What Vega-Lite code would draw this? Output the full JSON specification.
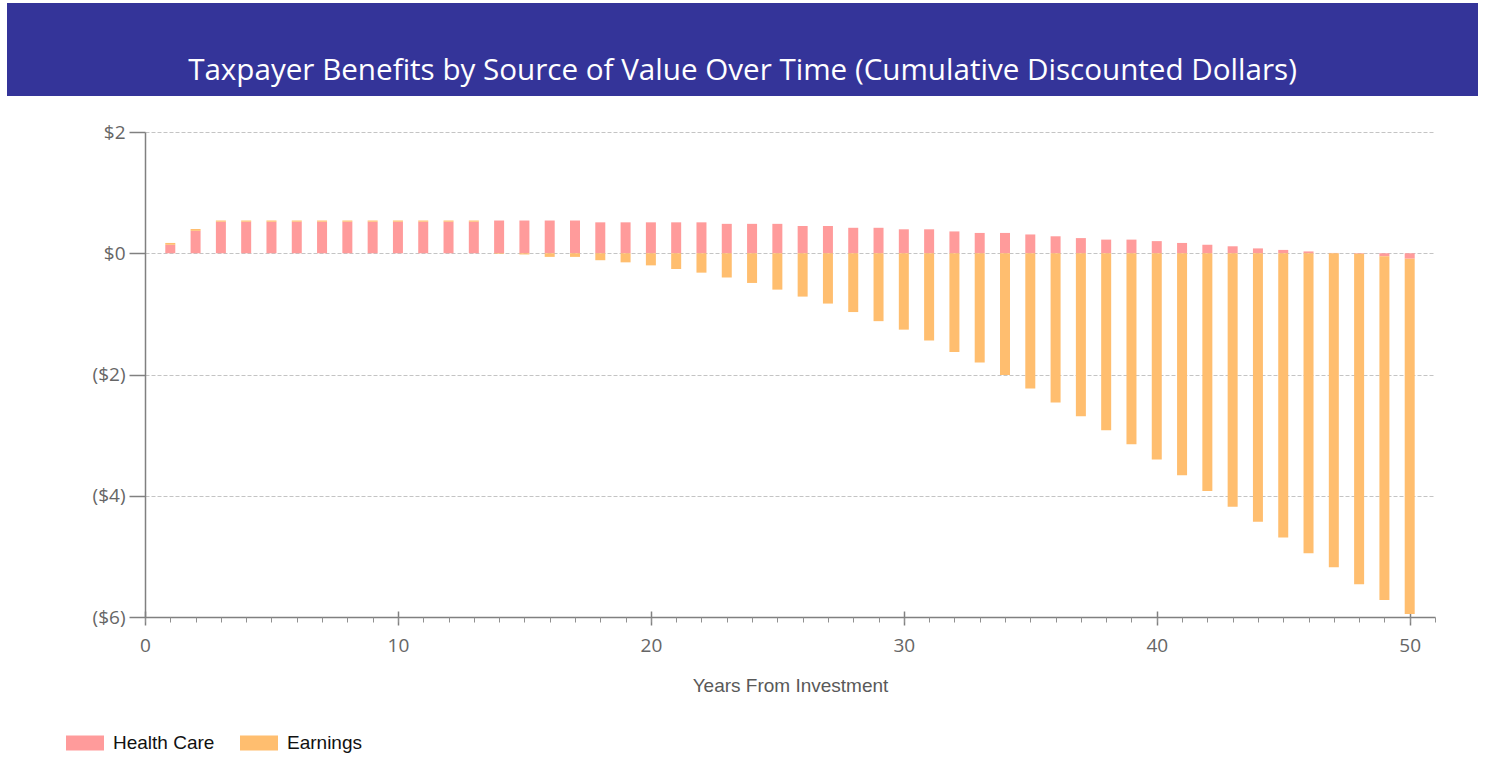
{
  "$schema": "https://vega.github.io/schema/vega-lite/v6.json",
  "padding": {"left": 7, "top": 3, "right": 9, "bottom": 5},
  "background": "white",
  "config": {"view": {"stroke": null}, "font": "Open Sans"},
  "spacing": 27,
  "vconcat": [
    {
      "width": 1471,
      "height": 93,
      "view": {"fill": "#343499", "stroke": null},
      "data": {"values": [{"t": "Taxpayer Benefits by Source of Value Over Time (Cumulative Discounted Dollars)"}]},
      "mark": {"type": "text", "color": "white", "font": "Open Sans", "fontSize": 29.6, "dy": 21},
      "encoding": {
        "text": {"field": "t", "type": "nominal"},
        "x": {"datum": 0, "type": "quantitative", "scale": {"domain": [-1, 1]}, "axis": null},
        "y": {"datum": 0, "type": "quantitative", "scale": {"domain": [-1, 1]}, "axis": null}
      }
    },
    {
      "spacing": 0,
      "bounds": "flush",
      "hconcat": [
        {
          "width": 138,
          "height": 485,
          "data": {"values": [{"t": ""}]},
          "mark": {"type": "text"},
          "encoding": {
            "text": {"field": "t", "type": "nominal"},
            "x": {"datum": 0, "type": "quantitative", "axis": null},
            "y": {"datum": 0, "type": "quantitative", "axis": null}
          }
        },
        {
          "width": 1290,
          "height": 485,
          "data": {"values": [
            {"year": 1, "Health Care": 0.14, "Earnings": 0.03},
            {"year": 2, "Health Care": 0.37, "Earnings": 0.03},
            {"year": 3, "Health Care": 0.52, "Earnings": 0.02},
            {"year": 4, "Health Care": 0.52, "Earnings": 0.02},
            {"year": 5, "Health Care": 0.52, "Earnings": 0.02},
            {"year": 6, "Health Care": 0.52, "Earnings": 0.02},
            {"year": 7, "Health Care": 0.52, "Earnings": 0.02},
            {"year": 8, "Health Care": 0.52, "Earnings": 0.02},
            {"year": 9, "Health Care": 0.52, "Earnings": 0.02},
            {"year": 10, "Health Care": 0.52, "Earnings": 0.02},
            {"year": 11, "Health Care": 0.52, "Earnings": 0.02},
            {"year": 12, "Health Care": 0.52, "Earnings": 0.02},
            {"year": 13, "Health Care": 0.52, "Earnings": 0.02},
            {"year": 14, "Health Care": 0.54, "Earnings": -0.01},
            {"year": 15, "Health Care": 0.54, "Earnings": -0.02},
            {"year": 16, "Health Care": 0.54, "Earnings": -0.06},
            {"year": 17, "Health Care": 0.54, "Earnings": -0.06},
            {"year": 18, "Health Care": 0.51, "Earnings": -0.115},
            {"year": 19, "Health Care": 0.51, "Earnings": -0.15},
            {"year": 20, "Health Care": 0.51, "Earnings": -0.2},
            {"year": 21, "Health Care": 0.51, "Earnings": -0.26},
            {"year": 22, "Health Care": 0.51, "Earnings": -0.32},
            {"year": 23, "Health Care": 0.485, "Earnings": -0.4},
            {"year": 24, "Health Care": 0.485, "Earnings": -0.49},
            {"year": 25, "Health Care": 0.485, "Earnings": -0.6},
            {"year": 26, "Health Care": 0.45, "Earnings": -0.715},
            {"year": 27, "Health Care": 0.45, "Earnings": -0.83},
            {"year": 28, "Health Care": 0.42, "Earnings": -0.97},
            {"year": 29, "Health Care": 0.42, "Earnings": -1.12},
            {"year": 30, "Health Care": 0.395, "Earnings": -1.26},
            {"year": 31, "Health Care": 0.395, "Earnings": -1.44},
            {"year": 32, "Health Care": 0.36, "Earnings": -1.63},
            {"year": 33, "Health Care": 0.335, "Earnings": -1.8},
            {"year": 34, "Health Care": 0.335, "Earnings": -2.01},
            {"year": 35, "Health Care": 0.31, "Earnings": -2.23},
            {"year": 36, "Health Care": 0.28, "Earnings": -2.46},
            {"year": 37, "Health Care": 0.25, "Earnings": -2.69},
            {"year": 38, "Health Care": 0.225, "Earnings": -2.92},
            {"year": 39, "Health Care": 0.225, "Earnings": -3.15},
            {"year": 40, "Health Care": 0.2, "Earnings": -3.4},
            {"year": 41, "Health Care": 0.17, "Earnings": -3.66},
            {"year": 42, "Health Care": 0.14, "Earnings": -3.92},
            {"year": 43, "Health Care": 0.115, "Earnings": -4.18},
            {"year": 44, "Health Care": 0.08, "Earnings": -4.43},
            {"year": 45, "Health Care": 0.055, "Earnings": -4.69},
            {"year": 46, "Health Care": 0.03, "Earnings": -4.95},
            {"year": 47, "Health Care": 0.005, "Earnings": -5.18},
            {"year": 48, "Health Care": -0.01, "Earnings": -5.45},
            {"year": 49, "Health Care": -0.05, "Earnings": -5.67},
            {"year": 50, "Health Care": -0.09, "Earnings": -5.86}
          ]},
          "transform": [{"fold": ["Health Care", "Earnings"], "as": ["source", "value"]}],
          "resolve": {"axis": {"x": "independent"}},
          "layer": [
            {
              "mark": {"type": "bar", "size": 10},
              "encoding": {
                "x": {
                  "field": "year", "type": "quantitative",
                  "scale": {"domain": [0, 51], "nice": false, "zero": false, "padding": 0},
                  "axis": {
                    "orient": "bottom", "values": [0, 10, 20, 30, 40, 50],
                    "title": "Years From Investment", "grid": false, "labelFlush": false,
                    "tickSize": 8, "tickColor": "#808080", "tickWidth": 1.5,
                    "domainColor": "#808080", "domainWidth": 1.5,
                    "labelFont": "Open Sans", "labelFontSize": 19, "labelColor": "#666666", "labelPadding": 11,
                    "titleFont": "Liberation Sans", "titleFontSize": 19, "titleFontWeight": "normal",
                    "titleColor": "#595959", "titlePadding": 21
                  }
                },
                "y": {
                  "field": "value", "type": "quantitative", "stack": "zero",
                  "scale": {"domain": [-6, 2], "nice": false},
                  "axis": {
                    "values": [-6, -4, -2, 0, 2],
                    "labelExpr": "datum.value < 0 ? '($' + abs(datum.value) + ')' : '$' + datum.value",
                    "title": null, "grid": true, "gridColor": "#c4c4c4", "gridDash": [4, 2], "gridWidth": 1,
                    "tickSize": 16, "tickColor": "#808080", "tickWidth": 1.5,
                    "domainColor": "#808080", "domainWidth": 1.5,
                    "labelFont": "Open Sans", "labelFontSize": 19, "labelColor": "#666666", "labelPadding": 4
                  }
                },
                "color": {
                  "field": "source", "type": "nominal", "sort": "descending",
                  "scale": {"range": ["#FF9B9B", "#FFBE6F"]},
                  "legend": {
                    "title": null, "orient": "none", "legendX": 59, "legendY": 721,
                    "direction": "horizontal",
                    "symbolType": "M-1,-0.4H1V0.4H-1Z", "symbolSize": 1444,
                    "symbolStrokeWidth": 0, "symbolOpacity": 1,
                    "labelFont": "Liberation Sans", "labelFontSize": 19, "labelColor": "#111111",
                    "labelOffset": 9, "columnPadding": 25
                  }
                }
              }
            },
            {
              "mark": {"type": "point", "opacity": 0},
              "encoding": {
                "x": {
                  "field": "year", "type": "quantitative",
                  "axis": {
                    "orient": "bottom",
                    "values": [0,1,2,3,4,5,6,7,8,9,10,11,12,13,14,15,16,17,18,19,20,21,22,23,24,25,26,27,28,29,30,31,32,33,34,35,36,37,38,39,40,41,42,43,44,45,46,47,48,49,50,51],
                    "labels": false, "domain": false, "grid": false, "title": null,
                    "tickSize": 5, "tickColor": "#909090", "tickWidth": 1
                  }
                },
                "y": {"field": "value", "type": "quantitative"}
              }
            },
            {
              "mark": {"type": "point", "opacity": 0},
              "encoding": {
                "x": {
                  "field": "year", "type": "quantitative",
                  "axis": {
                    "orient": "bottom", "values": [0, 10, 20, 30, 40, 50],
                    "labels": false, "domain": false, "grid": false, "title": null,
                    "tickSize": -6, "tickColor": "#808080", "tickWidth": 1.5
                  }
                },
                "y": {"field": "value", "type": "quantitative"}
              }
            }
          ]
        }
      ]
    }
  ]
}
